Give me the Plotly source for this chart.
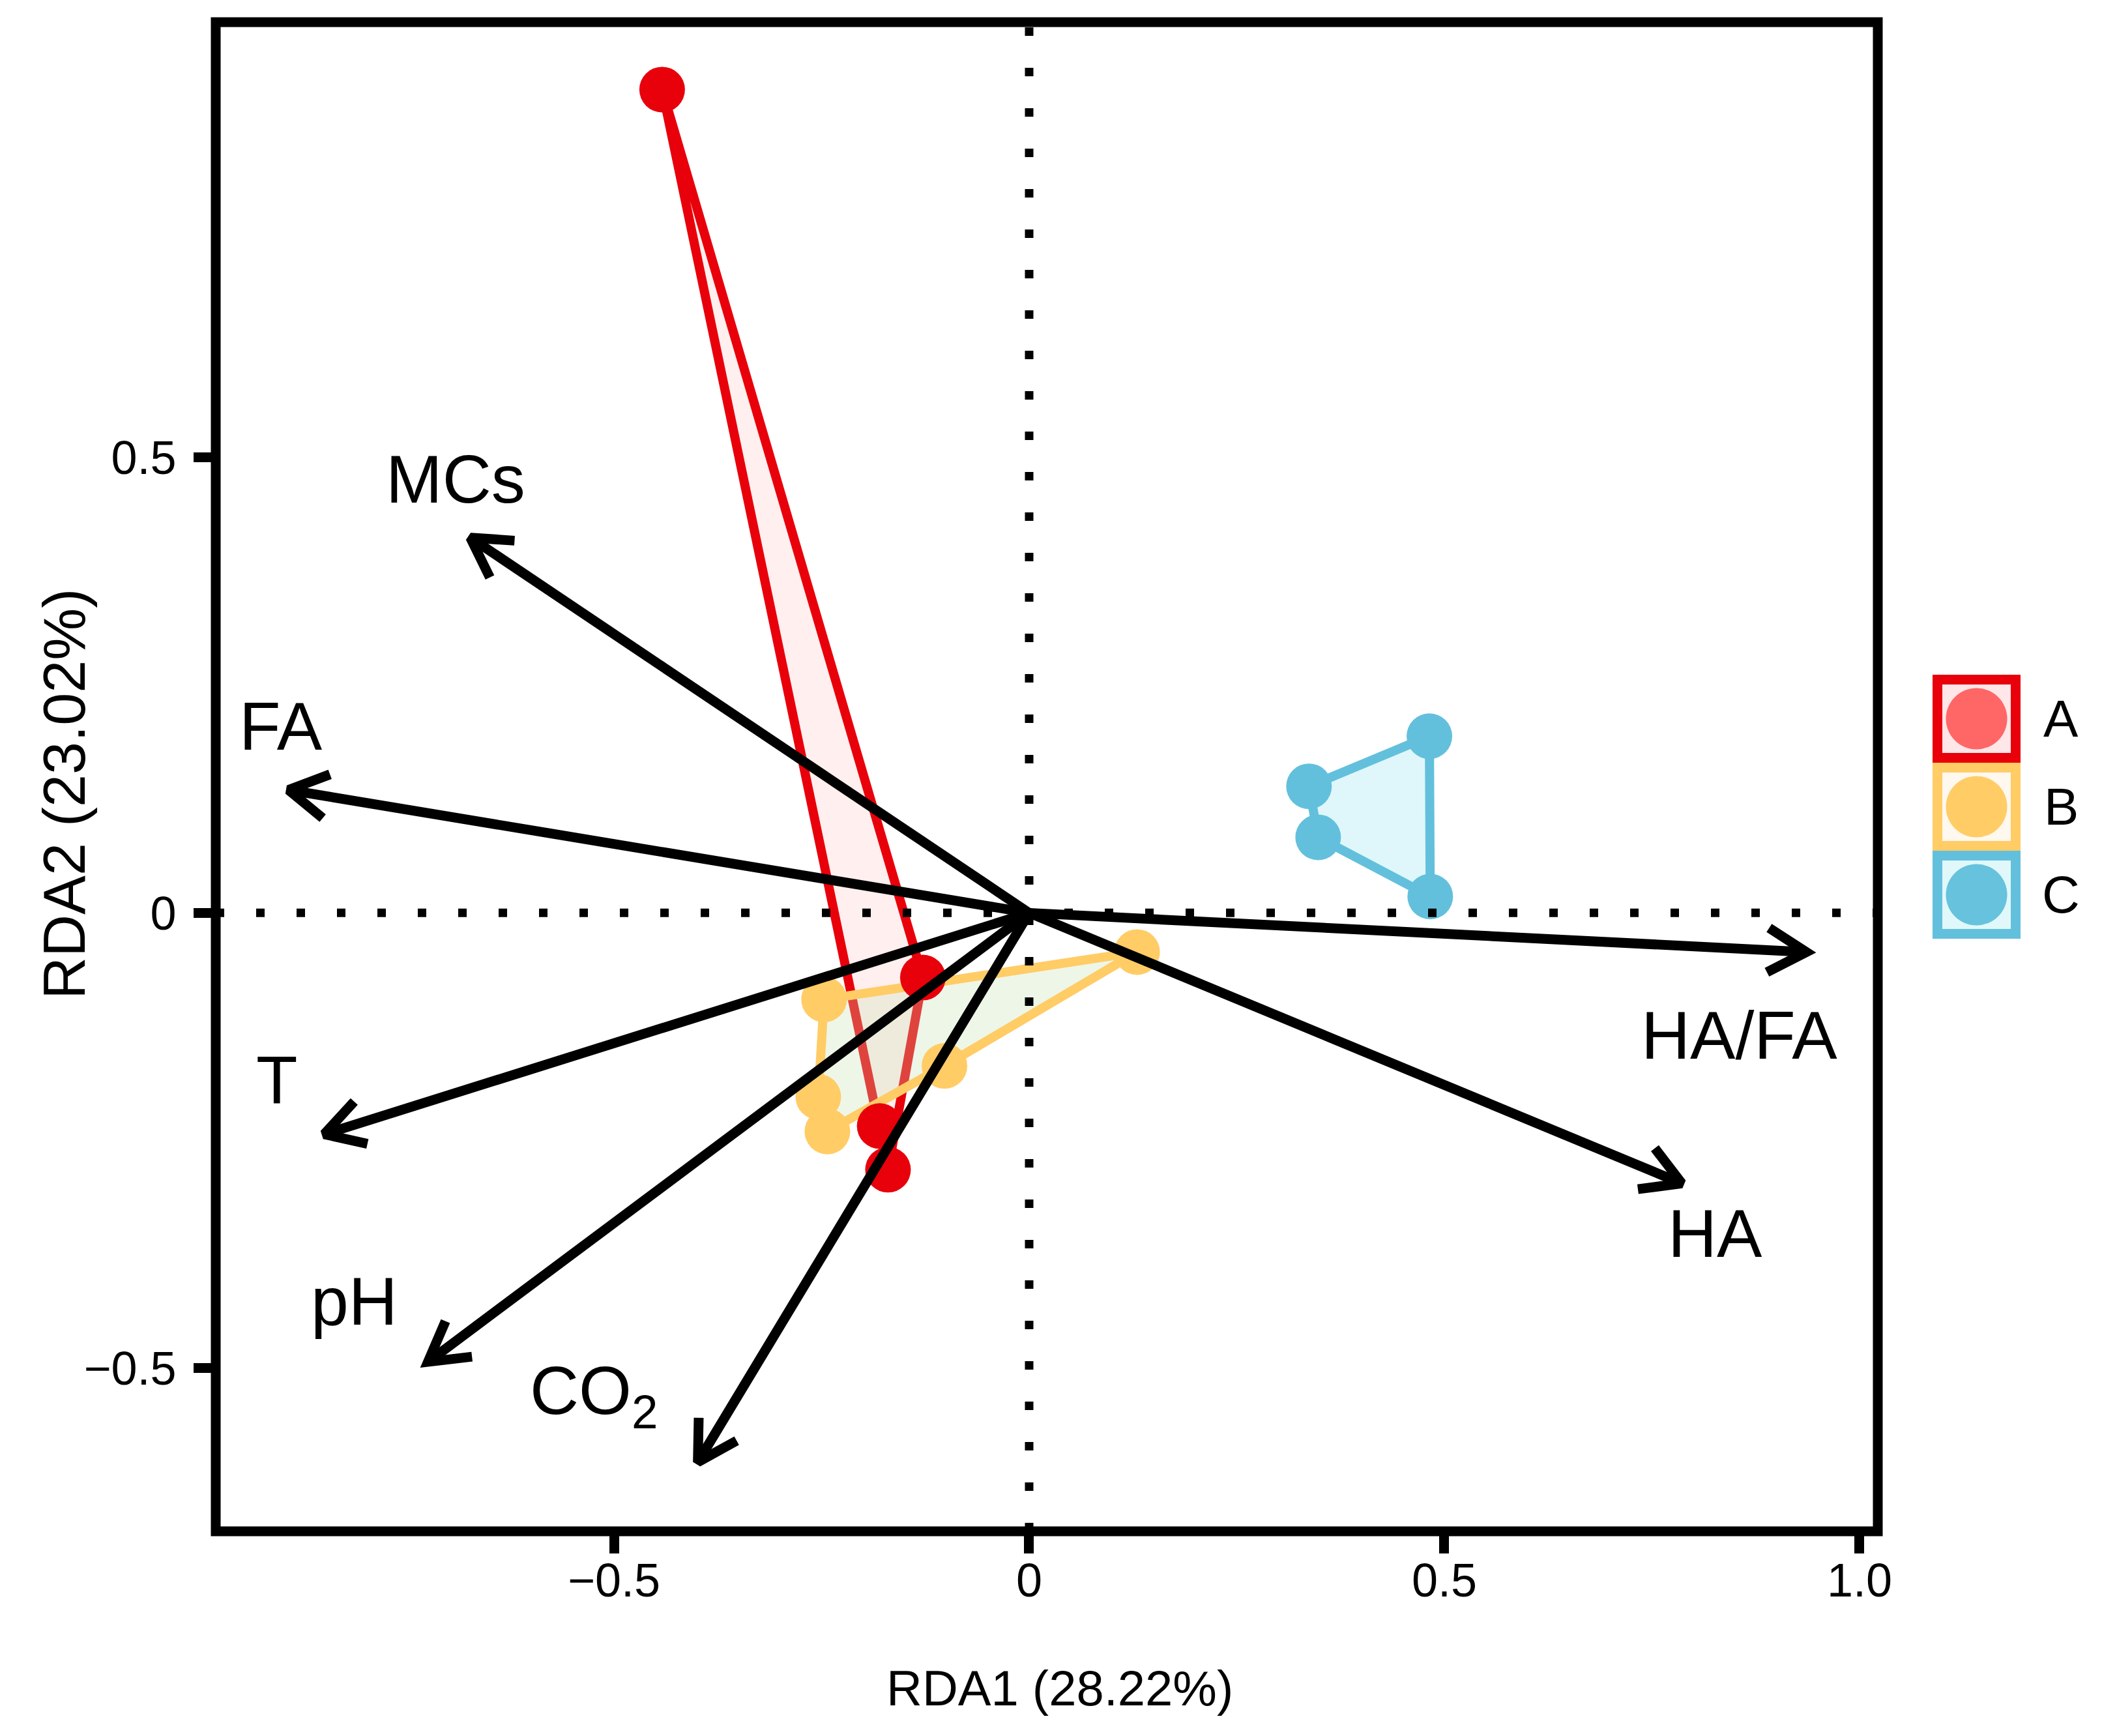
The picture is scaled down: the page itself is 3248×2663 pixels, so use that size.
import math
import plotly.graph_objects as go

# ---------------- data ----------------
groups = ["A", "B", "C"]
A_x = [-0.442, -0.128, -0.180, -0.170]
A_y = [0.904, -0.071, -0.234, -0.282]
B_x = [0.130, -0.247, -0.102, -0.254, -0.243]
B_y = [-0.043, -0.095, -0.168, -0.202, -0.240]
C_x = [0.482, 0.337, 0.348, 0.483]
C_y = [0.194, 0.139, 0.083, 0.018]

env_names = ["MCs", "FA", "T", "pH", "CO<sub>2</sub>", "HA/FA", "HA"]
env_x = [-0.673, -0.892, -0.849, -0.724, -0.399, 0.936, 0.786]
env_y = [0.412, 0.135, -0.243, -0.493, -0.603, -0.043, -0.297]
label_x = [-0.691, -0.901, -0.906, -0.813, -0.524, 0.855, 0.826]
label_y = [0.476, 0.205, -0.184, -0.426, -0.530, -0.134, -0.352]

x_tickvals = [-0.5, 0, 0.5, 1.0]
x_ticktext = ["\u22120.5", "0", "0.5", "1.0"]
y_tickvals = [-0.5, 0, 0.5]
y_ticktext = ["\u22120.5", "0", "0.5"]
x_title = "RDA1 (28.22%)"
y_title = "RDA2 (23.02%)"

# ---------------- style ----------------
W, H = 3248, 2663
ML, MR, MT, MB = 331, 367, 34, 314
PW, PH = W - ML - MR, H - MT - MB
X_RANGE = [-0.9796, 1.022]
Y_RANGE = [-0.679, 0.978]
SX = PW / (X_RANGE[1] - X_RANGE[0])
SY = PH / (Y_RANGE[1] - Y_RANGE[0])
FONT = "Arial, 'Liberation Sans', Helvetica, sans-serif"

point_colors = ["#E8000B", "#FFCC66", "#63C0DC"]
line_colors = ["#E8000B", "#FFCC66", "#63C0DC"]
fill_colors = ["rgba(255,190,190,0.25)", "rgba(200,225,180,0.30)", "rgba(150,230,240,0.30)"]
key_point_colors = ["#FF6666", "#FFCC66", "#66C2DD"]
key_fill_colors = ["#FFE6E8", "#FFF8EE", "#E0F8FA"]

xs_all = [A_x, B_x, C_x]
ys_all = [A_y, B_y, C_y]


def convex_hull(xs, ys):
    pts = sorted(zip(xs, ys))

    def cross(o, a, b):
        return (a[0] - o[0]) * (b[1] - o[1]) - (a[1] - o[1]) * (b[0] - o[0])

    lower, upper = [], []
    for p in pts:
        while len(lower) >= 2 and cross(lower[-2], lower[-1], p) <= 0:
            lower.pop()
        lower.append(p)
    for p in reversed(pts):
        while len(upper) >= 2 and cross(upper[-2], upper[-1], p) <= 0:
            upper.pop()
        upper.append(p)
    hull = lower[:-1] + upper[:-1]
    hull.append(hull[0])
    return [p[0] for p in hull], [p[1] for p in hull]


fig = go.Figure()

# hull polygons
for g, xs, ys, lc, fc in zip(groups, xs_all, ys_all, line_colors, fill_colors):
    hx, hy = convex_hull(xs, ys)
    fig.add_trace(go.Scatter(x=hx, y=hy, mode="lines", fill="toself", fillcolor=fc,
                             line=dict(color=lc, width=14), hoverinfo="skip",
                             showlegend=False))

# sample points
for g, xs, ys, pc in zip(groups, xs_all, ys_all, point_colors):
    fig.add_trace(go.Scatter(x=xs, y=ys, mode="markers", name=g,
                             marker=dict(color=pc, size=70, line=dict(width=0)),
                             showlegend=False))

# dotted reference lines
fig.add_trace(go.Scatter(x=X_RANGE, y=[0, 0], mode="lines",
                         line=dict(color="black", width=13, dash="13px,49px"),
                         hoverinfo="skip", showlegend=False))
fig.add_trace(go.Scatter(x=[0, 0], y=Y_RANGE, mode="lines",
                         line=dict(color="black", width=13, dash="13px,49px"),
                         hoverinfo="skip", showlegend=False))

# arrows (shafts + open heads)
sx_, sy_ = [], []
hx_, hy_ = [], []
HEAD_LEN = 68
HEAD_ANG = math.radians(30)
for x, y in zip(env_x, env_y):
    sx_ += [0, x, None]
    sy_ += [0, y, None]
    bx, by = -x * SX, -y * SY
    n = math.hypot(bx, by)
    bx, by = bx / n, by / n
    arms = []
    for s in (1, -1):
        ca, sa = math.cos(s * HEAD_ANG), math.sin(s * HEAD_ANG)
        rx, ry = bx * ca - by * sa, bx * sa + by * ca
        arms.append((x + rx * HEAD_LEN / SX, y + ry * HEAD_LEN / SY))
    hx_ += [arms[0][0], x, arms[1][0], None]
    hy_ += [arms[0][1], y, arms[1][1], None]
fig.add_trace(go.Scatter(x=sx_, y=sy_, mode="lines", line=dict(color="black", width=15),
                         hoverinfo="skip", showlegend=False))
fig.add_trace(go.Scatter(x=hx_, y=hy_, mode="lines", line=dict(color="black", width=15),
                         hoverinfo="skip", showlegend=False))

annotations = []
for name, lx, ly in zip(env_names, label_x, label_y):
    annotations.append(dict(x=lx, y=ly, xref="x", yref="y", text=name, showarrow=False,
                            xanchor="center", yanchor="middle",
                            font=dict(family=FONT, size=104, color="black")))


def px2paper(px, py):
    return (px - ML) / PW, (MT + PH - py) / PH


# axis titles
tx, ty = px2paper(1626, 2589)
annotations.append(dict(x=tx, y=ty, xref="paper", yref="paper", text=x_title, showarrow=False,
                        xanchor="center", yanchor="middle",
                        font=dict(family=FONT, size=76, color="black")))
tx, ty = px2paper(99, 1218)
annotations.append(dict(x=tx, y=ty, xref="paper", yref="paper", text=y_title, showarrow=False,
                        xanchor="center", yanchor="middle", textangle=-90,
                        font=dict(family=FONT, size=90, color="black")))

shapes = []
# panel border
shapes.append(dict(type="rect", xref="paper", yref="paper", x0=0, x1=1, y0=0, y1=1,
                   line=dict(color="black", width=15), fillcolor="rgba(0,0,0,0)", layer="above"))

# custom legend (ggplot-style keys)
KEY_X0, KEY_SIZE, KEY_TOP = 2965, 135, 1035
for i, g in enumerate(groups):
    top = KEY_TOP + i * KEY_SIZE
    x0, y0 = px2paper(KEY_X0 + 7.5, top + 7.5)
    x1, y1 = px2paper(KEY_X0 + KEY_SIZE - 7.5, top + KEY_SIZE - 7.5)
    shapes.append(dict(type="rect", xref="paper", yref="paper", x0=x0, x1=x1, y0=y1, y1=y0,
                       line=dict(color=line_colors[i], width=15), fillcolor=key_fill_colors[i]))
    cx, cy = KEY_X0 + KEY_SIZE / 2, top + KEY_SIZE / 2
    c0x, c0y = px2paper(cx - 47, cy - 47)
    c1x, c1y = px2paper(cx + 47, cy + 47)
    shapes.append(dict(type="circle", xref="paper", yref="paper", x0=c0x, x1=c1x, y0=c1y, y1=c0y,
                       line=dict(width=0), fillcolor=key_point_colors[i]))
    lx, ly = px2paper(3162, cy)
    annotations.append(dict(x=lx, y=ly, xref="paper", yref="paper", text=g, showarrow=False,
                            xanchor="center", yanchor="middle",
                            font=dict(family=FONT, size=80, color="black")))

axis_common = dict(showgrid=False, zeroline=False, showline=False, ticks="outside",
                   ticklen=33, tickwidth=15, tickcolor="black",
                   tickfont=dict(family=FONT, size=72, color="black"))

fig.update_layout(
    width=W, height=H, autosize=False,
    margin=dict(l=ML, r=MR, t=MT, b=MB, pad=0),
    paper_bgcolor="white", plot_bgcolor="white",
    xaxis=dict(range=X_RANGE, tickmode="array", tickvals=x_tickvals, ticktext=x_ticktext,
               ticklabelstandoff=-20, **axis_common),
    yaxis=dict(range=Y_RANGE, tickmode="array", tickvals=y_tickvals, ticktext=y_ticktext,
               ticklabelstandoff=12, **axis_common),
    shapes=shapes, annotations=annotations, showlegend=False,
)

fig.write_html("out.html")
